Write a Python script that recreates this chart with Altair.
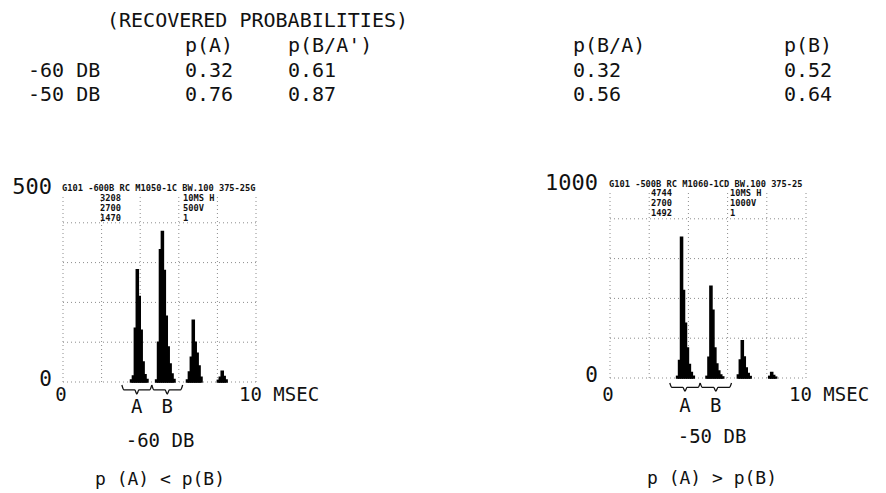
import altair as alt
import pandas as pd

# ---------------- data ----------------
conditions = ["-60 DB", "-50 DB"]
col_headers = ["p(A)", "p(B/A')", "p(B/A)", "p(B)"]
p_A = [0.32, 0.76]
p_B_given_Anot = [0.61, 0.87]
p_B_given_A = [0.32, 0.56]
p_B = [0.52, 0.64]

BIN_MS = 0.1  # BW.100 (100 microsecond bins)

# -60 DB histogram (bin start in ms, count)
left_bins = [3.5, 3.6, 3.7, 3.8, 3.9, 4.0, 4.1, 4.2, 4.3,
             4.8, 4.9, 5.0, 5.1, 5.2, 5.3, 5.4, 5.5, 5.6, 5.7,
             6.4, 6.5, 6.6, 6.7, 6.8, 6.9, 7.0, 7.1,
             8.0, 8.1, 8.2, 8.3, 8.4]
left_counts = [5, 15, 135, 282, 215, 130, 50, 18, 6,
               5, 100, 332, 378, 280, 165, 88, 45, 20, 6,
               5, 25, 62, 155, 100, 72, 40, 12,
               4, 12, 27, 14, 5]

# -50 DB histogram
right_bins = [3.4, 3.5, 3.6, 3.7, 3.8, 3.9, 4.0, 4.1, 4.2,
              4.9, 5.0, 5.1, 5.2, 5.3, 5.4, 5.5, 5.6, 5.7,
              6.5, 6.6, 6.7, 6.8, 6.9, 7.0, 7.1,
              8.1, 8.2, 8.3, 8.4]
right_counts = [8, 88, 707, 440, 275, 150, 68, 28, 9,
                8, 104, 461, 340, 150, 70, 35, 15, 5,
                15, 90, 187, 105, 50, 22, 7,
                8, 28, 12, 4]

brace_labels = ["A", "B"]
brace_start = [3.05, 4.6]
brace_end = [4.6, 6.2]

grid_x = [0, 2, 4, 6, 8, 10]
grid_y_left = [0, 100, 200, 300, 400]
grid_y_right = [0, 200, 400, 600, 800]

left_header = ["G101 -600B RC M1050-1C BW.100 375-25G", "3208", "2700", "1470", "10MS H", "500V", "1"]
right_header = ["G101 -500B RC M1060-1CD BW.100 375-25", "4744", "2700", "1492", "10MS H", "1000V", "1"]

# ---------------- style ----------------
FONT = "DejaVu Sans Mono"
W, H = 870, 485
INK = "#111111"
GRID = "#8c8c8c"


def txt(df, x, y, size=19, align="left", dx=0, dy=0, font=FONT, weight="normal"):
    return alt.Chart(df).mark_text(
        font=font, fontSize=size, align=align, baseline="middle", dx=dx, dy=dy,
        color=INK, fontWeight=weight,
    ).encode(x=x, y=y, text="t:N")


def panel(bins, counts, xs, ys, ymax, gy, bsc, header, hx, hy, ylab_x, xlab_y,
          ab_y, title, subtitle, title_x, title_y):
    layers = []
    # dotted grid
    hdf = pd.DataFrame({"v": gy, "a": 0, "b": 10})
    layers.append(alt.Chart(hdf).mark_rule(color=GRID, strokeDash=[1, 3], strokeWidth=1).encode(
        y=alt.Y("v:Q", scale=ys, axis=None), x=alt.X("a:Q", scale=xs, axis=None), x2="b:Q"))
    vdf = pd.DataFrame({"v": grid_x, "a": 0, "b": ymax * 0.935})
    layers.append(alt.Chart(vdf).mark_rule(color=GRID, strokeDash=[1, 3], strokeWidth=1).encode(
        x=alt.X("v:Q", scale=xs, axis=None), y=alt.Y("a:Q", scale=ys, axis=None), y2="b:Q"))
    # histogram bars
    df = pd.DataFrame({"start": bins, "count": counts})
    df["end"] = df["start"] + BIN_MS
    df["zero"] = 0
    layers.append(alt.Chart(df).mark_bar(color="black", stroke="black", strokeWidth=1.6).encode(
        x=alt.X("start:Q", scale=xs, axis=None), x2="end:Q",
        y=alt.Y("count:Q", scale=ys, axis=None), y2="zero:Q"))
    # braces
    t_shape = [0, 0.07, 0.43, 0.5, 0.57, 0.93, 1]
    y_shape = [0, 0.55, 0.55, 1, 0.55, 0.55, 0]
    rows = []
    for lab, s, e in zip(brace_labels, brace_start, brace_end):
        for i, (t, yy) in enumerate(zip(t_shape, y_shape)):
            rows.append({"brace": lab, "i": i, "x": s + t * (e - s), "y": yy})
    bdf = pd.DataFrame(rows)
    layers.append(alt.Chart(bdf).mark_line(color=INK, strokeWidth=1.3, interpolate="monotone").encode(
        x=alt.X("x:Q", scale=xs, axis=None), y=alt.Y("y:Q", scale=bsc, axis=None),
        detail="brace:N", order="i:Q"))
    # A / B labels
    ldf = pd.DataFrame({"t": brace_labels,
                        "c": [(s + e) / 2 for s, e in zip(brace_start, brace_end)]})
    layers.append(txt(ldf, alt.X("c:Q", scale=xs, axis=None), alt.value(ab_y), size=19, align="center"))
    # y-axis labels
    layers.append(txt(pd.DataFrame({"v": [0], "t": ["0"]}), alt.value(ylab_x),
                      alt.Y("v:Q", scale=ys, axis=None), size=21, align="right", dy=-2))
    layers.append(txt(pd.DataFrame({"v": [ymax], "t": [str(ymax)]}), alt.value(ylab_x),
                      alt.Y("v:Q", scale=ys, axis=None), size=22, align="right", dy=4))
    # x-axis labels
    layers.append(txt(pd.DataFrame({"v": [0], "t": ["0"]}), alt.X("v:Q", scale=xs, axis=None),
                      alt.value(xlab_y), size=19, align="center", dx=-2))
    layers.append(txt(pd.DataFrame({"v": [10], "t": ["10 MSEC"]}), alt.X("v:Q", scale=xs, axis=None),
                      alt.value(xlab_y), size=19, align="left", dx=-17))
    # instrument header inside the plot
    hsize = 8.7
    layers.append(txt(pd.DataFrame({"t": [header[0]]}), alt.value(hx[0]), alt.value(hy[0]),
                      size=hsize, weight="bold"))
    for k in range(3):
        layers.append(txt(pd.DataFrame({"t": [header[1 + k]]}), alt.value(hx[1]), alt.value(hy[1 + k]),
                          size=hsize, weight="bold"))
        layers.append(txt(pd.DataFrame({"t": [header[4 + k]]}), alt.value(hx[2]), alt.value(hy[1 + k]),
                          size=hsize, weight="bold"))
    # titles under the panel
    layers.append(txt(pd.DataFrame({"t": [title]}), alt.value(title_x), alt.value(title_y[0]), size=19, align="center"))
    layers.append(txt(pd.DataFrame({"t": [subtitle]}), alt.value(title_x), alt.value(title_y[1]), size=18, align="center"))
    return layers


xL = alt.Scale(domain=[0, 10], range=[55, 248], nice=False)
yL = alt.Scale(domain=[0, 500], range=[374, 175], nice=False)
bL = alt.Scale(domain=[0, 1], range=[377, 386], nice=False)
xR = alt.Scale(domain=[0, 10], range=[602, 798], nice=False)
yR = alt.Scale(domain=[0, 1000], range=[370, 171], nice=False)
bR = alt.Scale(domain=[0, 1], range=[375, 383], nice=False)

layers = []
layers += panel(left_bins, left_counts, xL, yL, 500, grid_y_left, bL, left_header,
                [54, 92, 175], [180, 190, 200, 210], 44, 387, 399,
                conditions[0], "p (A) < p(B)", 152, [433, 472])
layers += panel(right_bins, right_counts, xR, yR, 1000, grid_y_right, bR, right_header,
                [601, 643, 722], [176, 185, 195, 205], 590, 387, 398,
                conditions[1], "p (A) > p(B)", 704, [429, 471])

# ---------------- probability table ----------------
row_domain = ["hdr"] + conditions
rowY = alt.Scale(domain=row_domain, range=[38, 87], padding=0)
layers.append(txt(pd.DataFrame({"t": ["(RECOVERED PROBABILITIES)"]}), alt.value(99), alt.value(13), size=20))
layers.append(txt(pd.DataFrame({"r": conditions, "t": conditions}), alt.value(20),
                  alt.Y("r:N", scale=rowY, axis=None), size=20))
col_x = [177, 280, 565, 776]
for hdr, vals, cx in zip(col_headers, [p_A, p_B_given_Anot, p_B_given_A, p_B], col_x):
    tdf = pd.DataFrame({"r": row_domain, "t": [hdr] + [f"{v:.2f}" for v in vals]})
    layers.append(txt(tdf, alt.value(cx), alt.Y("r:N", scale=rowY, axis=None), size=20))

chart = alt.layer(*layers).resolve_scale(x="independent", y="independent").properties(
    width=W, height=H, autosize=alt.AutoSizeParams(type="none"), padding=0,
).configure_view(strokeWidth=0)

chart.save("out.html", embed_options={"renderer": "svg", "actions": False})
